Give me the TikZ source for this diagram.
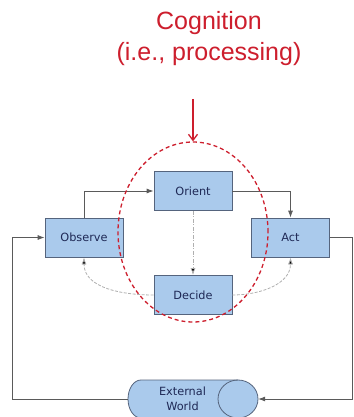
\documentclass[tikz,border=0pt]{standalone}
\usepackage{fontspec}
\setmainfont{Liberation Sans}
\newfontfamily\boxfont{DejaVu Sans}
\usetikzlibrary{shapes.geometric,arrows.meta}
\definecolor{boxfill}{RGB}{170,202,236}
\definecolor{boxdraw}{RGB}{85,100,125}
\definecolor{boxtext}{RGB}{30,40,85}
\definecolor{linegray}{RGB}{90,90,90}
\definecolor{softgray}{RGB}{175,175,175}
\definecolor{cogred}{RGB}{205,30,45}
\tikzset{
  boxtxt/.style={font=\boxfont\fontsize{11.3}{15}\selectfont, text=boxtext},
  box/.style={draw=boxdraw, fill=boxfill, line width=0.8pt, minimum width=78pt, minimum height=39pt, inner sep=0pt, boxtxt},
  flow/.style={draw=linegray, line width=0.8pt, -{Latex[length=7pt,width=5pt]}},
  plain/.style={draw=linegray, line width=0.8pt},
  softflow/.style={draw=softgray, line width=0.8pt, dash pattern=on 3pt off 1.5pt, -{Latex[length=7pt,width=5pt,fill=black]}},
  cogline/.style={draw=cogred, line width=1.3pt, dash pattern=on 4pt off 3pt},
  cylline/.style={draw=boxdraw, line width=0.8pt},
}
\begin{document}
\begin{tikzpicture}[x=1pt,y=-1pt]
\useasboundingbox (0,0) rectangle (353,417);
\clip (0,0) rectangle (353,417);
% title
\node[text=cogred, font=\fontsize{25}{31}\selectfont, align=center, inner sep=0pt] (title) at (209,39) {Cognition\\(i.e., processing)};
% boxes
\node[box] (obs) at (84,237.5) {Observe};
\node[box] (ori) at (193,191) {Orient};
\node[box] (act) at (290.5,237.5) {Act};
\node[box] (dec) at (193,295) {Decide};
% external world (horizontal cylinder)
\node[minimum width=130pt, minimum height=38pt, inner sep=0pt] (ext) at (193,399) {};
\fill[boxfill] (141,380) -- (238,380)
  .. controls (249.05,380) and (258,388.51) .. (258,399)
  .. controls (258,409.49) and (249.05,418) .. (238,418)
  -- (141,418)
  .. controls (133.82,418) and (128,409.49) .. (128,399)
  .. controls (128,388.51) and (133.82,380) .. (141,380) -- cycle;
\draw[cylline] (141,380) -- (238,380)
  .. controls (249.05,380) and (258,388.51) .. (258,399)
  .. controls (258,409.49) and (249.05,418) .. (238,418)
  -- (141,418)
  .. controls (133.82,418) and (128,409.49) .. (128,399)
  .. controls (128,388.51) and (133.82,380) .. (141,380) -- cycle;
\draw[cylline] (238,380)
  .. controls (226.95,380) and (218,388.51) .. (218,399)
  .. controls (218,409.49) and (226.95,418) .. (238,418);
\node[boxtxt, align=center, inner sep=0pt] (extlabel) at (182.5,399) {External\\World};
% main loop
\draw[flow] (obs.north) |- (ori.west);
\draw[flow] (ori.east) -| (act.north);
\coordinate (rtop) at (352.5,237.5);
\coordinate (lbot) at (12,399);
\draw[plain] (act.east) -- (rtop);
\draw[flow] (rtop) |- (ext.east);
\draw[plain] (ext.west) -- (lbot);
\draw[flow] (lbot) |- (obs.west);
% soft links
\draw[softflow, dash pattern=on 4pt off 1.5pt on 1pt off 1.5pt] (ori.south) -- (dec.north);
\draw[softflow] (dec.west) to[out=180,in=-90] (obs.south);
\draw[softflow] (dec.east) to[out=0,in=-90] (act.south);
% cognition ellipse
\node[ellipse, cogline, minimum width=150pt, minimum height=180pt, inner sep=0pt] (cog) at (193,232) {};
\coordinate (rs) at (193,99);
\draw[draw=cogred, line width=1.3pt, -{Straight Barb[length=6pt,width=9pt]}] (rs) -- (cog.north);
\end{tikzpicture}
\end{document}
